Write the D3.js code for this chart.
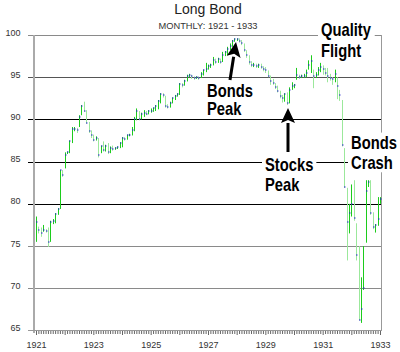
<!DOCTYPE html>
<html>
<head>
<meta charset="utf-8">
<script src="https://cdn.jsdelivr.net/npm/d3@7/dist/d3.min.js"></script>
<style>
    body { margin: 0; background: #fff; }
    svg { display: block; font-family: "Liberation Sans", Arial, sans-serif; }
    .note { font-family: "Liberation Sans", Arial, sans-serif; font-weight: bold; font-size: 18px; fill: #000; }
</style>
</head>
<body>
<div id="chart"></div>
<script>
// DATA (monthly, Jan 1921 .. Jan 1933)
const startYear = 1921;
const yearLabels = [1921, 1923, 1925, 1927, 1929, 1931, 1933];
const yTicks = [65, 70, 75, 80, 85, 90, 95, 100];

const closeVals = [
    77.9, 76.9, 76.6, 76.9, 76.8, 75.5, 77.8, 78.0, 78.8, 79.4, 84.0, 83.4,
    85.8, 86.1, 87.4, 88.9, 88.9, 88.7, 90.3, 91.6, 91.0, 89.6, 88.6, 88.1,
    87.6, 87.8, 85.8, 86.8, 86.4, 86.9, 86.1, 86.6, 86.5, 86.6, 86.7, 87.2,
    87.8, 87.7, 88.1, 88.2, 88.7, 90.0, 91.0, 90.1, 90.6, 90.8, 90.7, 91.0,
    91.0, 91.3, 91.6, 92.2, 93.0, 92.9, 91.6, 91.5, 92.0, 92.5, 92.8, 93.0,
    94.2, 94.1, 94.6, 95.2, 95.3, 95.1, 94.9, 95.0, 94.9, 95.4, 95.8, 96.0,
    96.3, 96.5, 97.0, 96.8, 97.1, 96.8, 97.6, 98.0, 98.3, 98.7, 99.3, 99.5,
    99.5, 99.3, 99.0, 98.2, 97.6, 96.8, 96.4, 96.5, 96.3, 96.5, 96.2, 96.0,
    95.8, 95.2, 94.5, 94.3, 93.9, 93.4, 92.8, 92.5, 93.0, 92.0, 93.5, 94.0,
    94.1, 95.3, 95.0, 95.1, 95.2, 95.5, 96.5, 96.9, 95.2, 95.3, 95.8, 96.2,
    96.0, 95.5, 95.2, 94.9, 94.8, 95.4, 94.0, 92.9, 87.0, 82.0, 77.8, 78.9,
    80.0, 78.3, 74.0, 66.3, 67.5, 70.0, 81.5, 82.6, 78.9, 77.2, 77.5, 78.2,
    80.6
];
const highVals = [
    78.5, 77.3, 77.2, 77.5, 77.0, 77.2, 78.0, 78.2, 78.9, 79.5, 84.0, 84.0,
    86.1, 86.2, 87.5, 89.1, 89.1, 89.0, 90.5, 91.7, 92.1, 91.1, 89.7, 88.7,
    88.2, 88.0, 87.8, 86.9, 87.4, 87.0, 87.2, 86.8, 86.9, 86.7, 86.8, 87.3,
    87.9, 87.9, 88.2, 88.3, 89.1, 90.3, 91.3, 91.0, 90.8, 91.1, 91.0, 91.1,
    91.3, 91.4, 91.7, 92.3, 93.1, 93.1, 92.8, 91.8, 92.1, 92.6, 92.9, 93.1,
    94.3, 94.3, 94.7, 95.3, 95.4, 95.3, 95.1, 95.1, 95.1, 95.6, 95.9, 96.7,
    96.5, 96.6, 97.4, 97.2, 97.3, 97.2, 98.0, 98.1, 98.6, 99.0, 99.4, 99.6,
    99.6, 99.6, 99.4, 99.0, 98.2, 97.6, 96.9, 96.7, 96.6, 96.6, 96.6, 96.3,
    96.2, 95.8, 95.2, 94.8, 94.3, 94.0, 93.4, 92.9, 93.1, 93.2, 93.8, 94.4,
    94.2, 96.1, 95.3, 95.3, 95.4, 95.9, 97.0, 97.6, 95.9, 95.6, 96.2, 96.7,
    96.4, 96.1, 96.1, 95.4, 95.0, 95.9, 95.0, 93.5, 92.3, 86.6, 81.9, 80.0,
    82.3, 82.8, 77.7, 75.0, 71.3, 75.0, 82.8, 82.8, 82.8, 79.0, 77.6, 80.8,
    80.8
];
const lowVals = [
    75.5, 76.5, 76.1, 76.7, 76.6, 74.9, 75.5, 77.6, 77.7, 78.7, 79.4, 83.2,
    84.2, 85.9, 86.0, 87.2, 88.6, 88.4, 89.1, 90.5, 90.9, 89.5, 88.4, 87.8,
    87.4, 87.5, 85.5, 86.0, 86.2, 86.2, 85.9, 86.0, 86.3, 86.4, 86.5, 86.6,
    86.7, 87.5, 87.6, 88.0, 88.1, 88.6, 89.9, 89.9, 90.0, 90.3, 90.5, 90.6,
    90.8, 90.9, 91.0, 91.2, 91.9, 92.6, 91.4, 91.3, 91.4, 91.9, 92.3, 92.7,
    92.9, 93.8, 94.0, 94.5, 95.0, 94.8, 94.7, 94.8, 94.7, 94.9, 95.2, 95.6,
    95.9, 96.1, 96.4, 96.6, 96.7, 96.6, 96.8, 97.5, 97.6, 98.2, 98.6, 99.2,
    99.3, 99.1, 98.8, 98.0, 97.3, 96.5, 96.2, 96.2, 96.1, 96.1, 96.0, 95.7,
    95.5, 95.0, 94.1, 94.1, 93.6, 93.2, 92.5, 92.0, 92.1, 91.7, 91.9, 93.5,
    93.7, 94.7, 94.8, 94.9, 94.9, 95.0, 95.9, 95.5, 93.7, 94.9, 95.2, 95.6,
    95.3, 95.2, 94.4, 94.6, 94.1, 94.4, 92.4, 92.2, 86.8, 81.9, 73.3, 76.5,
    78.5, 78.0, 73.3, 66.2, 65.9, 69.8, 75.4, 82.0, 78.7, 77.0, 76.6, 77.4,
    80.0
];

const notes = [
    { lines: ["Quality", "Flight"], x: 321, y: 36, lineH: 21 },
    { lines: ["Bonds", "Peak"], x: 207, y: 97, lineH: 18 },
    { lines: ["Stocks", "Peak"], x: 265, y: 171, lineH: 20 },
    { lines: ["Bonds", "Crash"], x: 351, y: 149, lineH: 20 }
];

// SVG
const width = 400;
const height = 352;

const svg = d3.select("#chart")
    .append("svg")
    .attr("width", width)
    .attr("height", height);

svg.append("rect").attr("width", width).attr("height", height).attr("fill", "#fff");

const xScale = d3.scaleLinear()
    .domain([0, 144])
    .range([36, 380]);

const yScale = d3.scaleLinear()
    .domain([65, 100])
    .range([330.5, 35]);

// TITLE
svg.append("text")
    .attr("x", 208).attr("y", 13.5)
    .attr("text-anchor", "middle")
    .style("font-size", "14px")
    .attr("fill", "#222")
    .text("Long Bond");

svg.append("text")
    .attr("x", 208).attr("y", 28.5)
    .attr("text-anchor", "middle")
    .style("font-size", "9.3px")
    .attr("fill", "#333")
    .text("MONTHLY: 1921 - 1933");

// GRID
const gridColor = v => (v >= 80 && v <= 90) ? "#000" : (v === 95 ? "#555" : "#8a8a8a");

svg.append("g")
    .selectAll("line")
    .data(yTicks.filter(v => v > 65))
    .enter()
    .append("line")
    .attr("x1", 28)
    .attr("x2", 382)
    .attr("y1", d => Math.round(yScale(d)) + 0.5)
    .attr("y2", d => Math.round(yScale(d)) + 0.5)
    .attr("stroke", gridColor)
    .attr("stroke-width", 1);

svg.append("g")
    .selectAll("text")
    .data(yTicks)
    .enter()
    .append("text")
    .attr("x", 20.5)
    .attr("y", d => yScale(d) + 0.5)
    .attr("text-anchor", "end")
    .style("font-size", "9px")
    .attr("fill", "#333")
    .text(d => d);

// FRAME
svg.append("line")
    .attr("x1", 34).attr("x2", 34)
    .attr("y1", 35).attr("y2", 333)
    .attr("stroke", "#aaa").attr("stroke-width", 2);

svg.append("line")
    .attr("x1", 381.5).attr("x2", 381.5)
    .attr("y1", 35).attr("y2", 331)
    .attr("stroke", "#999").attr("stroke-width", 1);

svg.append("line")
    .attr("x1", 28).attr("x2", 382)
    .attr("y1", 330.5).attr("y2", 330.5)
    .attr("stroke", "#999").attr("stroke-width", 1);

// X AXIS (month ticks)
const xAxis = d3.axisBottom(xScale)
    .tickValues(d3.range(0, 145))
    .tickSize(3)
    .tickFormat("");

const xAxisGroup = svg.append("g")
    .attr("transform", "translate(0, 331)")
    .call(xAxis);
xAxisGroup.select(".domain").remove();
xAxisGroup.selectAll(".tick line")
    .attr("stroke", "#666")
    .attr("y2", d => d % 12 === 0 ? 4 : 3);

svg.append("g")
    .selectAll("text")
    .data(yearLabels)
    .enter()
    .append("text")
    .attr("x", d => xScale((d - startYear) * 12) + 0.5)
    .attr("y", 348)
    .attr("text-anchor", "middle")
    .style("font-size", "9px")
    .attr("fill", "#333")
    .text(d => d);

// BARS
const bars = svg.append("g");
closeVals.forEach((c, i) => {
    const prev = i > 0 ? closeVals[i - 1] : c;
    const x = Math.round(xScale(i)) + 0.5;
    bars.append("line")
        .attr("x1", x).attr("x2", x)
        .attr("y1", yScale(highVals[i]))
        .attr("y2", yScale(lowVals[i]))
        .attr("stroke", c >= prev ? "#1ccc1c" : "#9be89b")
        .attr("stroke-width", 1);
    bars.append("rect")
        .attr("x", x - 0.5)
        .attr("y", Math.round(yScale(c)) - 0.5)
        .attr("width", 1.5)
        .attr("height", 1)
        .attr("fill", "#2222cc");
});

// NOTES (narrow bold face: Arial bold squeezed horizontally)
notes.forEach(n => {
    const g = svg.append("g");
    const bg = g.append("rect").attr("fill", "#fff");
    const t = g.append("text")
        .attr("class", "note")
        .attr("transform", `translate(${n.x}, ${n.y}) scale(0.82, 1)`);
    n.lines.forEach((s, i) => {
        t.append("tspan").attr("x", 0).attr("y", i * n.lineH).text(s);
    });
    const b = t.node().getBBox();
    bg.attr("x", n.x + b.x * 0.82 - 3)
        .attr("y", n.y + b.y)
        .attr("width", b.width * 0.82 + 6)
        .attr("height", b.height);
});

// ARROWS
const arrows = [
    { from: [230, 80], to: [236, 42] },
    { from: [288, 152], to: [288, 108] }
];
arrows.forEach(a => {
    const dx = a.to[0] - a.from[0];
    const dy = a.to[1] - a.from[1];
    const len = Math.hypot(dx, dy);
    const ux = dx / len, uy = dy / len;
    const headL = 15, headW = 7;
    const bx = a.to[0] - ux * headL, by = a.to[1] - uy * headL;
    svg.append("line")
        .attr("x1", a.from[0]).attr("y1", a.from[1])
        .attr("x2", bx).attr("y2", by)
        .attr("stroke", "#000").attr("stroke-width", 3);
    svg.append("path")
        .attr("d", `M${a.to[0]},${a.to[1]}L${bx - uy * headW},${by + ux * headW}L${bx + ux * 3},${by + uy * 3}L${bx + uy * headW},${by - ux * headW}Z`)
        .attr("fill", "#000");
});
</script>
</body>
</html>
